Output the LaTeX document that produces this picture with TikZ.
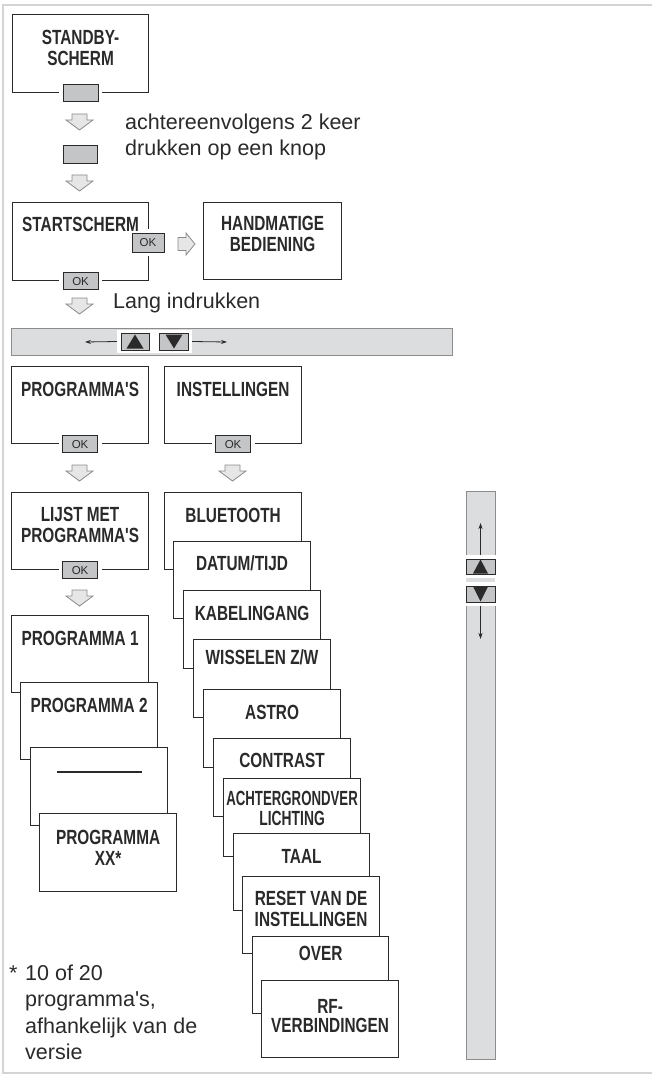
\documentclass[tikz,border=0pt]{standalone}
\usepackage{fontspec}
\setmainfont{Liberation Sans}[Ligatures=TeXOff]
\newfontfamily\cnd{Liberation Sans Bold}[FakeStretch=0.75,Ligatures=TeXOff]
\usepackage{graphicx}
\usetikzlibrary{arrows.meta}
\definecolor{ink}{HTML}{2A2A2A}
\definecolor{btngray}{HTML}{C4C5C7}
\definecolor{bargray}{HTML}{DCDDDF}
\definecolor{barline}{HTML}{8C8C8C}
\definecolor{arrgray}{HTML}{E6E6E6}
\definecolor{arrline}{HTML}{8A8A8A}
\definecolor{framegray}{HTML}{D4D4D4}
\tikzset{
  pics/dnarr/.style={code={\draw[draw=arrline, fill=arrgray, line width=0.8pt, line join=miter]
     (-7.5,0) -- (7.5,0) -- (7.5,6) -- (13.5,6) -- (0,16) -- (-13.5,6) -- (-7.5,6) -- cycle;}},
  pics/rtarr/.style={code={\draw[draw=arrline, fill=arrgray, line width=0.8pt, line join=miter]
     (0,-6.5) -- (8,-6.5) -- (8,-11) -- (17,0) -- (8,11) -- (8,6.5) -- (0,6.5) -- cycle;}}
}
\begin{document}
\begin{tikzpicture}[x=1pt,y=-1pt,
  box/.style={draw=ink, line width=1.2pt, fill=white, minimum width=137pt, minimum height=78pt, anchor=north west, inner sep=0pt},
  lbl/.style={font=\cnd\fontsize{20.5}{21}\selectfont, text=ink, align=center, inner sep=0pt},
  btn/.style={draw=ink, line width=0.9pt, fill=btngray, minimum width=35pt, minimum height=17pt, inner sep=0pt,
     font=\fontsize{11.5}{11.5}\selectfont, text=ink, preaction={draw=white, line width=8pt}},
  barbtn/.style={draw=ink, line width=1pt, fill=btngray, inner sep=0pt},
  body/.style={font=\fontsize{21.5}{26}\selectfont, text=ink, inner sep=0pt, anchor=base west},
  thinarr/.style={draw=ink, line width=0.8pt, -{Stealth[length=6pt,width=4pt]}}
]
\useasboundingbox (0,0) rectangle (652,1075);
\draw[framegray, line width=1.6pt] (3,5) rectangle (680,1073);

% ---- top
\node[box, minimum width=136pt] (standby) at (12,14) {};
\node[lbl] (standbyT) at ([yshift=-33.5pt]standby.north) {STANDBY-\\SCHERM};
\node[btn] (b1) at (standby.south) {};
\pic at (79.5,114) {dnarr};
\node[body] (t1) at (125,130) {achtereenvolgens 2 keer};
\node[body] (t2) at (125,156) {drukken op een knop};
\node[btn, minimum width=34pt, minimum height=18pt] (b2) at (80,154) {};
\pic at (79.5,175) {dnarr};

\node[box, minimum width=136pt] (start) at (12,202) {};
\node[btn, minimum width=32pt, minimum height=19pt] (okr) at (148,242.5) {OK};
\node[lbl] (startT) at ([yshift=-22.5pt]start.north) {STARTSCHERM};
\node[btn] (okb) at (start.south) {OK};
\pic at (178,244) {rtarr};
\node[box, minimum width=138pt, minimum height=77pt] (hand) at (203,202) {};
\node[lbl] (handT) at ([yshift=-32pt]hand.north) {HANDMATIGE\\BEDIENING};
\pic at (79.5,298) {dnarr};
\node[body] (t3) at (113,308) {Lang indrukken};

% ---- horizontal bar
\node[draw=barline, line width=1.2pt, fill=bargray, minimum width=441pt, minimum height=27pt, anchor=north west, inner sep=0pt] (hbar) at (11,328) {};
\node[fill=white, minimum width=75pt, minimum height=23pt, inner sep=0pt] (hwhite) at (154.5,341.5) {};
\node[barbtn, minimum width=28pt, minimum height=17pt] (hup) at (135,341.5) {};
\node[barbtn, minimum width=29pt, minimum height=17pt] (hdn) at (174,341.5) {};
\fill[ink] (126.5,348.5) -- (143.5,348.5) -- (135,334.5) -- cycle;
\fill[ink] (165.5,334.5) -- (182.5,334.5) -- (174,348.5) -- cycle;
\coordinate (hl) at (85,342);
\coordinate (hr) at (227,342);
\draw[thinarr] (hwhite.west) -- (hl);
\draw[thinarr] (hwhite.east) -- (hr);

% ---- programma's / instellingen
\node[box, minimum height=77pt] (prog) at (11,366) {};
\node[lbl] (progT) at ([yshift=-23pt]prog.north) {PROGRAMMA'S};
\node[btn] (okp) at (prog.south) {OK};
\node[box, minimum height=77pt] (inst) at (164,366) {};
\node[lbl] (instT) at ([yshift=-23pt]inst.north) {INSTELLINGEN};
\node[btn] (oki) at (inst.south) {OK};
\pic at (79.5,465) {dnarr};
\pic at (232.5,465) {dnarr};

\node[box, minimum height=77pt] (lijst) at (11,492) {};
\node[lbl] (lijstT) at ([yshift=-33pt]lijst.north) {LIJST MET\\PROGRAMMA'S};
\node[btn] (okl) at (lijst.south) {OK};
\pic at (79.5,590) {dnarr};

% ---- programma stack
\node[box, minimum height=77pt] (p1) at (11,615) {};
\node[lbl] (p1T) at ([yshift=-23pt]p1.north) {PROGRAMMA 1};
\node[box, minimum height=77pt] (p2) at (20,682) {};
\node[lbl] (p2T) at ([yshift=-23pt]p2.north) {PROGRAMMA 2};
\node[box] (p3) at (30,747) {};
\node[lbl] (p3T) at ([yshift=-25pt]p3.north) {\rule{85pt}{1.2pt}};
\node[box] (pxx) at (39,813) {};
\node[lbl] (pxxT) at ([yshift=-35pt]pxx.north) {PROGRAMMA\\XX*};

% ---- instellingen stack
\node[box, minimum height=77pt] (bt) at (164,492) {};
\node[lbl] (btT) at ([yshift=-23pt]bt.north) {BLUETOOTH};
\node[box, minimum height=77pt] (dt) at (173,541) {};
\node[lbl] (dtT) at ([yshift=-22pt]dt.north) {DATUM/TIJD};
\node[box] (kab) at (183,590) {};
\node[lbl] (kabT) at ([yshift=-23pt]kab.north) {KABELINGANG};
\node[box] (wis) at (193,639) {};
\node[lbl] (wisT) at ([yshift=-18pt]wis.north) {WISSELEN Z/W};
\node[box] (ast) at (203,689) {};
\node[lbl] (astT) at ([yshift=-23pt]ast.north) {ASTRO};
\node[box] (con) at (213,738) {};
\node[lbl] (conT) at ([yshift=-22pt]con.north) {CONTRAST};
\node[box] (ach) at (223,778) {};
\node[lbl, font=\cnd\fontsize{20.5}{20}\selectfont] (achT) at ([yshift=-30pt]ach.north) {\scalebox{0.86}[1]{ACHTERGRONDVER}\\\scalebox{0.9}[1]{LICHTING}};
\node[box, minimum width=136pt, minimum height=77pt] (taal) at (233,833) {};
\node[lbl] (taalT) at ([yshift=-23pt]taal.north) {TAAL};
\node[box, minimum height=77pt] (reset) at (242,876) {};
\node[lbl] (resetT) at ([yshift=-33pt]reset.north) {RESET VAN DE\\INSTELLINGEN};
\node[box, minimum width=136pt, minimum height=77pt] (over) at (252,936) {};
\node[lbl] (overT) at ([yshift=-17pt]over.north) {OVER};
\node[box, minimum height=77pt] (rf) at (261,980) {};
\node[lbl, font=\cnd\fontsize{20.5}{19}\selectfont] (rfT) at ([yshift=-36pt]rf.north) {RF-\\VERBINDINGEN};

% ---- vertical bar
\node[draw=barline, line width=1.2pt, fill=bargray, minimum width=29pt, minimum height=568pt, anchor=north west, inner sep=0pt] (vbar) at (466,491) {};
\node[fill=white, minimum width=32pt, minimum height=51pt, inner sep=0pt, anchor=north] (vwhite) at (480.5,555) {};
\node[fill=bargray, minimum width=29pt, minimum height=4pt, inner sep=0pt] (vstrip) at (480.5,580) {};
\node[barbtn, minimum width=29pt, minimum height=15pt] (vup) at (480.5,566.5) {};
\node[barbtn, minimum width=29pt, minimum height=16pt] (vdn) at (480.5,594) {};
\fill[ink] (473,573.5) -- (488,573.5) -- (480.5,559.5) -- cycle;
\fill[ink] (473,586.5) -- (488,586.5) -- (480.5,601.5) -- cycle;
\coordinate (vu) at (480.5,523);
\coordinate (vd) at (480.5,639);
\draw[thinarr] (vwhite.north) -- (vu);
\draw[thinarr] (vwhite.south) -- (vd);

% ---- footnote
\node[body] (fstar) at (9,980) {*};
\node[body] (f1) at (25,980) {10 of 20};
\node[body] (f2) at (25,1006) {programma's,};
\node[body] (f3) at (25,1033) {afhankelijk van de};
\node[body] (f4) at (25,1059) {versie};
\end{tikzpicture}
\end{document}
